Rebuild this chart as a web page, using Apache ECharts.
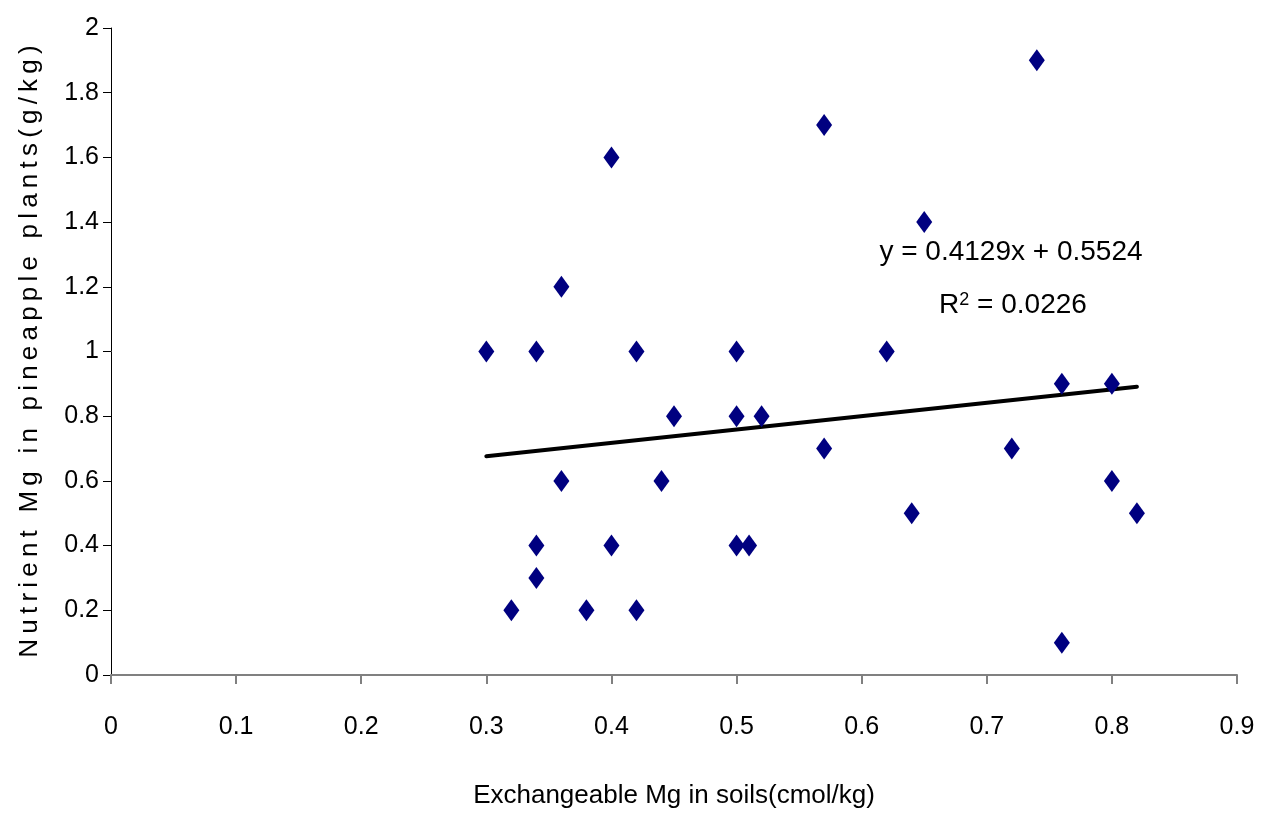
<!DOCTYPE html>
<html>
<head>
<meta charset="utf-8">
<script src="https://cdn.jsdelivr.net/npm/echarts@6/dist/echarts.min.js"></script>
<style>
  html, body { margin: 0; padding: 0; background: #fff; }
  #chart { width: 1268px; height: 817px; }
</style>
</head>
<body>
<div id="chart"></div>
<script>
// soil exchangeable Mg (cmol/kg) vs plant Mg (g/kg)
const soilMg = [0.30, 0.32, 0.34, 0.34, 0.34, 0.36, 0.36, 0.38, 0.40, 0.40, 0.42, 0.42, 0.44, 0.45, 0.50, 0.50, 0.50, 0.51, 0.52, 0.57, 0.57, 0.62, 0.64, 0.65, 0.72, 0.74, 0.76, 0.76, 0.80, 0.80, 0.82];
const plantMg = [1.0, 0.2, 1.0, 0.4, 0.3, 1.2, 0.6, 0.2, 1.6, 0.4, 1.0, 0.2, 0.6, 0.8, 1.0, 0.8, 0.4, 0.4, 0.8, 1.7, 0.7, 1.0, 0.5, 1.4, 0.7, 1.9, 0.9, 0.1, 0.9, 0.6, 0.5];

// linear trend line as printed on the chart
const slope = 0.4129;
const intercept = 0.5524;
const trendX = [0.30, 0.82];

const FONT = '"Liberation Sans", Arial, sans-serif';

const points = soilMg.map((x, i) => [x, plantMg[i]]);
const trend = trendX.map(x => [x, slope * x + intercept]);

// spaced-out letters like the original axis title
const yName = 'Nutrient Mg in pineapple plants(g/kg)'.split('').join('\u2009');

const option = {
    animation: false,
    grid: {
        left: 111,
        right: 31,
        top: 28,
        bottom: 142,
        outerBoundsMode: 'none',
    },
    xAxis: {
        type: 'value',
        min: 0,
        max: 0.9,
        interval: 0.1,
        name: 'Exchangeable Mg in soils(cmol/kg)',
        nameLocation: 'middle',
        nameGap: 108,
        nameTextStyle: { fontFamily: FONT, fontSize: 26, color: '#000' },
        axisLine: { onZero: false, lineStyle: { color: '#808080', width: 2 } },
        axisTick: { length: 9, lineStyle: { color: '#808080', width: 2 } },
        axisLabel: {
            margin: 40,
            fontFamily: FONT,
            fontSize: 25,
            color: '#000',
            formatter: v => String(Math.round(v * 10) / 10),
        },
        splitLine: { show: false },
    },
    yAxis: {
        type: 'value',
        min: 0,
        max: 2,
        interval: 0.2,
        name: yName,
        nameLocation: 'middle',
        nameGap: 68,
        nameTextStyle: { fontFamily: FONT, fontSize: 26, color: '#000' },
        axisLine: { show: true, onZero: false, lineStyle: { color: '#000', width: 1 } },
        axisTick: { show: true, length: 8, lineStyle: { color: '#000', width: 1 } },
        axisLabel: {
            margin: 12,
            fontFamily: FONT,
            fontSize: 25,
            color: '#000',
            formatter: v => String(Math.round(v * 10) / 10),
        },
        splitLine: { show: false },
    },
    graphic: [
        {
            type: 'text',
            x: 1011,
            y: 252,
            style: {
                text: 'y = 0.4129x + 0.5524',
                font: '28px ' + FONT,
                fill: '#000',
                align: 'center',
                verticalAlign: 'middle',
            },
        },
        {
            type: 'text',
            x: 1013,
            y: 305,
            style: {
                text: '{b|R}{s|2}{b| = 0.0226}',
                fill: '#000',
                align: 'center',
                verticalAlign: 'middle',
                rich: {
                    b: { fontFamily: FONT, fontSize: 28, color: '#000', verticalAlign: 'bottom' },
                    s: { fontFamily: FONT, fontSize: 18, color: '#000', verticalAlign: 'top', padding: [0, 0, 10, 0] },
                },
            },
        },
    ],
    series: [
        {
            type: 'line',
            data: trend,
            symbol: 'none',
            lineStyle: { color: '#000', width: 4, cap: 'round' },
            silent: true,
            z: 1,
        },
        {
            type: 'scatter',
            data: points,
            symbol: 'diamond',
            symbolSize: [16, 22],
            itemStyle: { color: '#000080', opacity: 1 },
            z: 3,
        },
    ],
};

const chart = echarts.init(document.getElementById('chart'));
chart.setOption(option);
</script>
</body>
</html>
